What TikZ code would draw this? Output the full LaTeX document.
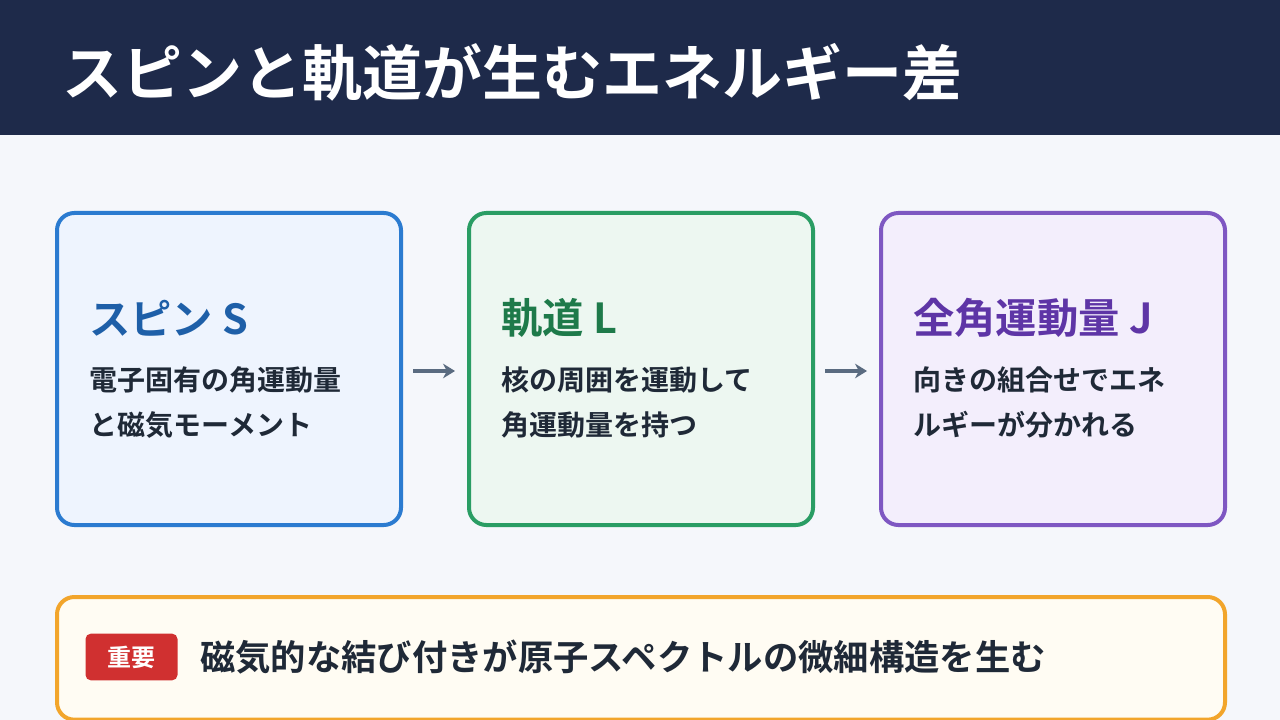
\documentclass[tikz,border=0pt]{standalone}
\usetikzlibrary{arrows.meta}
\usepackage{fontspec}
\setmainfont{Noto Sans CJK JP}
\newfontfamily\jpb{Noto Sans CJK JP Bold}
\definecolor{navy}{HTML}{1E2A4A}
\definecolor{bg}{HTML}{F5F7FB}
\definecolor{bB}{HTML}{2B7BD0}\definecolor{fB}{HTML}{EEF4FE}\definecolor{tB}{HTML}{1E5FA8}
\definecolor{bG}{HTML}{2A9D64}\definecolor{fG}{HTML}{EDF7F1}\definecolor{tG}{HTML}{1E7A4A}
\definecolor{bP}{HTML}{7E57C2}\definecolor{fP}{HTML}{F3EEFC}\definecolor{tP}{HTML}{5E35A6}
\definecolor{bO}{HTML}{F2A52B}\definecolor{fO}{HTML}{FFFCF3}
\definecolor{red}{HTML}{D03030}\definecolor{ink}{HTML}{1F2937}\definecolor{arr}{HTML}{5A6B80}
\begin{document}
\begin{tikzpicture}[x=0.75pt,y=-0.75pt,
 card/.style={rounded corners=13pt,line width=3pt,minimum width=258pt,minimum height=234pt,anchor=north west},
 ttl/.style={anchor=west,inner sep=0pt,font=\jpb\fontsize{31}{34}\selectfont},
 body/.style={anchor=north west,inner sep=0pt,align=left,font=\jpb\fontsize{21}{34}\selectfont,text=ink},
 arrow/.style={-{Stealth[length=9pt,width=11pt]},line width=3pt,arr}]
\fill[bg] (0,0) rectangle (1280,720);
\useasboundingbox (0,0) rectangle (1280,720);
\fill[navy] (0,0) rectangle (1280,135);
\node[anchor=west,inner sep=0pt,text=white,font=\jpb\fontsize{45}{48}\selectfont] (title) at (62,72) {スピンと軌道が生むエネルギー差};
\node[card,draw=bB,fill=fB] (c1) at (55,211) {};
\node[card,draw=bG,fill=fG] (c2) at (467,211) {};
\node[card,draw=bP,fill=fP] (c3) at (879,211) {};
\node[ttl,text=tB] (t1) at (89,318) {スピン S};
\node[ttl,text=tG] (t2) at (501,318) {軌道 L};
\node[ttl,text=tP] (t3) at (913,318) {全角運動量 J};
\node[body] (b1) at (89,366) {電子固有の角運動量\\と磁気モーメント};
\node[body] (b2) at (501,366) {核の周囲を運動して\\角運動量を持つ};
\node[body] (b3) at (913,366) {向きの組合せでエネ\\ルギーが分かれる};
\coordinate (a1s) at (413,371);\coordinate (a1e) at (455,371);
\coordinate (a2s) at (825,371);\coordinate (a2e) at (867,371);
\draw[arrow] (a1s) -- (a1e);
\draw[arrow] (a2s) -- (a2e);
\node[rounded corners=13pt,line width=3pt,draw=bO,fill=fO,minimum width=876pt,minimum height=92pt,anchor=north west] (bot) at (55,595) {};
\node[fill=red,rounded corners=4pt,minimum width=69pt,minimum height=35pt,text=white,font=\jpb\fontsize{18}{20}\selectfont] (badge) at (131.5,657) {重要};
\node[anchor=west,inner sep=0pt,text=ink,font=\jpb\fontsize{26.5}{30}\selectfont] (msg) at (200,657) {磁気的な結び付きが原子スペクトルの微細構造を生む};
\end{tikzpicture}
\end{document}
